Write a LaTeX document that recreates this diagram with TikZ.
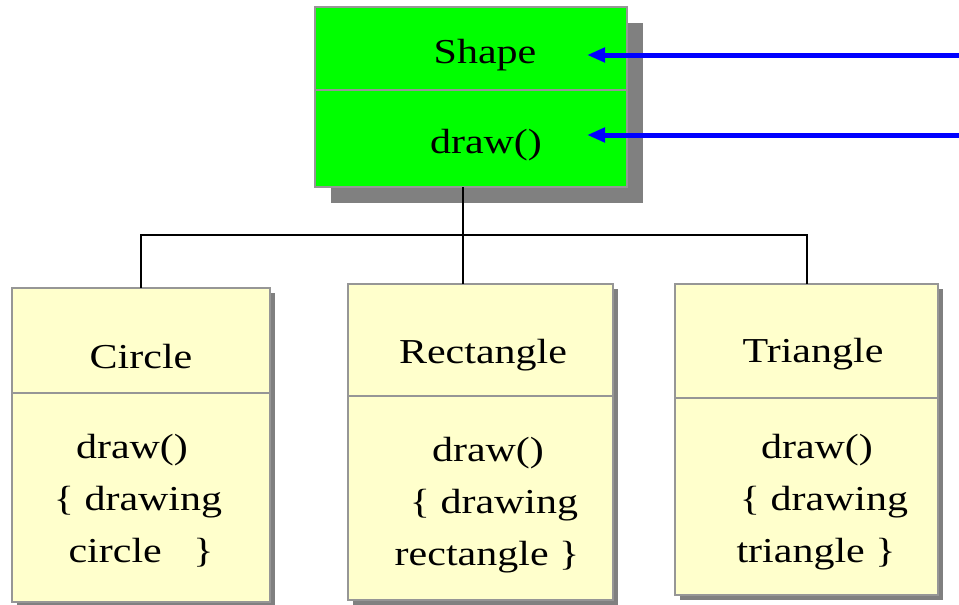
\documentclass[tikz,border=0pt]{standalone}
\usepackage{fontspec}
\setmainfont{Liberation Serif}[FakeStretch=1.2]
\usetikzlibrary{arrows.meta,shadows}
\definecolor{boxgray}{RGB}{150,150,150}
\definecolor{shadowgray}{RGB}{128,128,128}
\definecolor{classyellow}{RGB}{255,255,204}
\definecolor{pgreen}{RGB}{0,255,0}
\begin{document}
\begin{tikzpicture}[x=1pt,y=-1pt,
  classbox/.style={draw=boxgray, line width=1.5pt, anchor=north west, inner sep=0pt, outer sep=0pt},
  bigshadow/.style={drop shadow={shadow xshift=16pt, shadow yshift=-16pt, fill=shadowgray, opacity=1}},
  smallshadow/.style={drop shadow={shadow xshift=5pt, shadow yshift=-5pt, fill=shadowgray, opacity=1}},
  divider/.style={boxgray, line width=1.5pt},
  txt/.style={font=\fontsize{35pt}{42pt}\selectfont, anchor=base, inner sep=0pt},
  conn/.style={black, line width=2pt},
  callarrow/.style={blue, line width=5pt, -{Triangle[length=18pt,width=14pt]}},
]
\useasboundingbox (0,0) rectangle (959,605);

% Shape class
\node[classbox, fill=pgreen, bigshadow, minimum width=312pt, minimum height=180pt] (shape) at (315,7) {};
\draw[divider] (shape.north west) ++(0,83) -- ++(312,0);
\node[txt] (shapeName) at (485,63) {Shape};
\node[txt] (shapeOp) at (486,153) {draw()};

% Circle class
\node[classbox, fill=classyellow, smallshadow, minimum width=258pt, minimum height=314pt] (circ) at (12,288) {};
\draw[divider] (circ.north west) ++(0,105) -- ++(258,0);
\node[txt] (circName) at (141,368) {Circle};
\node[txt] (circL1) at (132,458) {draw()};
\node[txt] (circL2) at (138,510) {\{ drawing};
\node[txt] (circL3) at (141,562) {circle\ \ \ \}};

% Rectangle class
\node[classbox, fill=classyellow, smallshadow, minimum width=265pt, minimum height=316pt] (rect) at (348,284) {};
\draw[divider] (rect.north west) ++(0,112) -- ++(265,0);
\node[txt] (rectName) at (483,363) {Rectangle};
\node[txt] (rectL1) at (488,461) {draw()};
\node[txt] (rectL2) at (494,513) {\{ drawing};
\node[txt] (rectL3) at (487,565) {rectangle \}};

% Triangle class
\node[classbox, fill=classyellow, smallshadow, minimum width=263pt, minimum height=311pt] (tri) at (675,284) {};
\draw[divider] (tri.north west) ++(0,114) -- ++(263,0);
\node[txt] (triName) at (813,362) {Triangle};
\node[txt] (triL1) at (817,458) {draw()};
\node[txt] (triL2) at (824,510) {\{ drawing};
\node[txt] (triL3) at (816,562) {triangle \}};

% inheritance connectors
\coordinate (junction) at (463,235);
\draw[conn] (shape.south -| junction) -- (junction);
\draw[conn] (junction) -| (circ.north);
\draw[conn] (junction) -- (rect.north -| junction);
\draw[conn] (junction) -| (tri.north);

% incoming call arrows
\coordinate (nameIn) at (959,55);
\coordinate (nameTip) at (587,55);
\coordinate (opIn) at (959,135);
\coordinate (opTip) at (587,135);
\draw[callarrow] (nameIn) -- (nameTip);
\draw[callarrow] (opIn) -- (opTip);
\end{tikzpicture}
\end{document}
